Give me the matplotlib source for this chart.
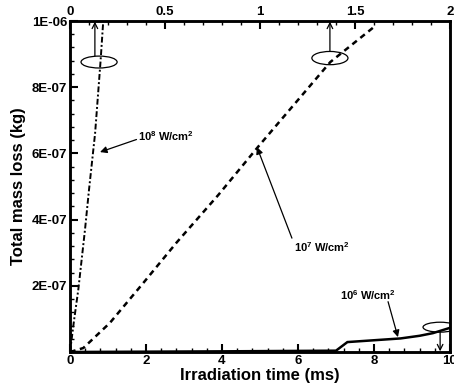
import matplotlib
matplotlib.use('Agg')
import matplotlib.pyplot as plt
from matplotlib.patches import Ellipse
from matplotlib.ticker import MultipleLocator, FixedLocator, FixedFormatter

plt.rcParams['font.family'] = ['Liberation Sans', 'DejaVu Sans']
plt.rcParams['font.weight'] = 'bold'
plt.rcParams['mathtext.fontset'] = 'custom'
plt.rcParams['mathtext.rm'] = 'Liberation Sans:bold'
plt.rcParams['mathtext.bf'] = 'Liberation Sans:bold'
plt.rcParams['mathtext.it'] = 'Liberation Sans:bold'
plt.rcParams['mathtext.default'] = 'bf'

# ---- data ----
# 10^8 W/cm2 (top time axis, 0-2 ms)
t8 = [0.0, 0.02, 0.044, 0.079, 0.10, 0.132, 0.161, 0.175]
m8 = [0.0, 0.09e-6, 0.19e-6, 0.37e-6, 0.49e-6, 0.66e-6, 0.88e-6, 1.0e-6]
# 10^7 W/cm2 (top time axis, 0-2 ms)
t7 = [0.0, 0.07, 0.21, 0.385, 0.56, 0.78, 0.99, 1.37, 1.60]
m7 = [0.0, 0.012e-6, 0.088e-6, 0.208e-6, 0.33e-6, 0.474e-6, 0.62e-6, 0.876e-6, 0.982e-6]
# 10^6 W/cm2 (bottom time axis, 0-10 ms)
t6 = [0.0, 4.0, 7.0, 7.3, 8.7, 9.2, 9.55, 10.0]
m6 = [0.0, 0.002e-6, 0.004e-6, 0.030e-6, 0.041e-6, 0.049e-6, 0.057e-6, 0.073e-6]

bottom_ticks = [0, 2, 4, 6, 8, 10]
bottom_labels = ['0', '2', '4', '6', '8', '10']
top_ticks = [0, 0.5, 1, 1.5, 2]
top_labels = ['0', '0.5', '1', '1.5', '2']
y_ticks = [0, 2e-7, 4e-7, 6e-7, 8e-7, 1e-6]
y_labels = ['', '2E-07', '4E-07', '6E-07', '8E-07', '1E-06']

fig = plt.figure(figsize=(4.54, 3.83), dpi=100)
ax = fig.add_axes([70/454, 31/383, 380/454, 331/383])
ax2 = ax.twiny()

ax.set_xlim(0, 10)
ax.set_ylim(0, 1e-6)
ax2.set_xlim(0, 2)

ax.plot(t6, m6, color='black', lw=1.8, solid_joinstyle='miter')
ax2.plot(t8, m8, color='black', lw=1.4, linestyle=(0, (3, 1.2, 1, 1.2)))
ax2.plot(t7, m7, color='black', lw=1.8, linestyle=(0, (2.3, 1.8)))

# ticks
ax.xaxis.set_major_locator(FixedLocator(bottom_ticks))
ax.xaxis.set_major_formatter(FixedFormatter(bottom_labels))
ax.xaxis.set_minor_locator(MultipleLocator(0.4))
ax.yaxis.set_major_locator(FixedLocator(y_ticks))
ax.yaxis.set_major_formatter(FixedFormatter(y_labels))
ax.yaxis.set_minor_locator(MultipleLocator(4e-8))
ax2.xaxis.set_major_locator(FixedLocator(top_ticks))
ax2.xaxis.set_major_formatter(FixedFormatter(top_labels))
ax2.xaxis.set_minor_locator(MultipleLocator(0.1))

for a in (ax, ax2):
    for s in a.spines.values():
        s.set_linewidth(1.8)
ax.tick_params(axis='both', which='major', direction='in', length=6, width=1.5,
               labelsize=9.5, pad=2)
ax.tick_params(axis='both', which='minor', direction='in', length=3, width=1.0)
ax.tick_params(axis='y', right=False)
ax2.tick_params(axis='x', which='major', direction='in', length=6, width=1.5,
                labelsize=9.5, pad=2)
ax2.tick_params(axis='x', which='minor', direction='in', length=3, width=1.0)

ax.set_xlabel('Irradiation time (ms)', fontsize=12, fontweight='bold', labelpad=1)
ax.set_ylabel('Total mass loss (kg)', fontsize=12, fontweight='bold', labelpad=4)

# curve labels (bottom-axis coordinates)
lab_kw = dict(fontsize=8, fontweight='bold', va='center')
ax.text(1.8, 0.653e-6, '10$^{8}$ W/cm$^{2}$', ha='left', **lab_kw)
ax.text(5.9, 0.317e-6, '10$^{7}$ W/cm$^{2}$', ha='left', **lab_kw)
ax.text(7.1, 0.172e-6, '10$^{6}$ W/cm$^{2}$', ha='left', **lab_kw)

arr_kw = dict(arrowstyle='-|>', color='black', lw=0.9, mutation_scale=10,
              shrinkA=0, shrinkB=0)
ax.annotate('', xy=(0.79, 0.604e-6), xytext=(1.75, 0.642e-6), arrowprops=arr_kw)
ax.annotate('', xy=(4.92, 0.619e-6), xytext=(5.84, 0.344e-6), arrowprops=arr_kw)
ax.annotate('', xy=(8.63, 0.045e-6), xytext=(8.37, 0.152e-6), arrowprops=arr_kw)

# ellipses marking which axis each curve uses
ax2.add_patch(Ellipse((0.153, 0.876e-6), 0.19, 0.036e-6, fill=False, lw=0.9, color='black'))
ax2.annotate('', xy=(0.131, 0.998e-6), xytext=(0.131, 0.894e-6),
             arrowprops=dict(arrowstyle='->', color='black', lw=0.9, shrinkA=0, shrinkB=0))
ax2.add_patch(Ellipse((1.368, 0.888e-6), 0.19, 0.04e-6, fill=False, lw=0.9, color='black'))
ax2.annotate('', xy=(1.368, 0.998e-6), xytext=(1.368, 0.908e-6),
             arrowprops=dict(arrowstyle='->', color='black', lw=0.9, shrinkA=0, shrinkB=0))
ax.add_patch(Ellipse((9.74, 0.075e-6), 0.9, 0.03e-6, fill=False, lw=0.9, color='black'))
ax.annotate('', xy=(9.74, 0.002e-6), xytext=(9.74, 0.06e-6),
            arrowprops=dict(arrowstyle='->', color='black', lw=0.9, shrinkA=0, shrinkB=0))

fig.savefig('out.png', dpi=100)
